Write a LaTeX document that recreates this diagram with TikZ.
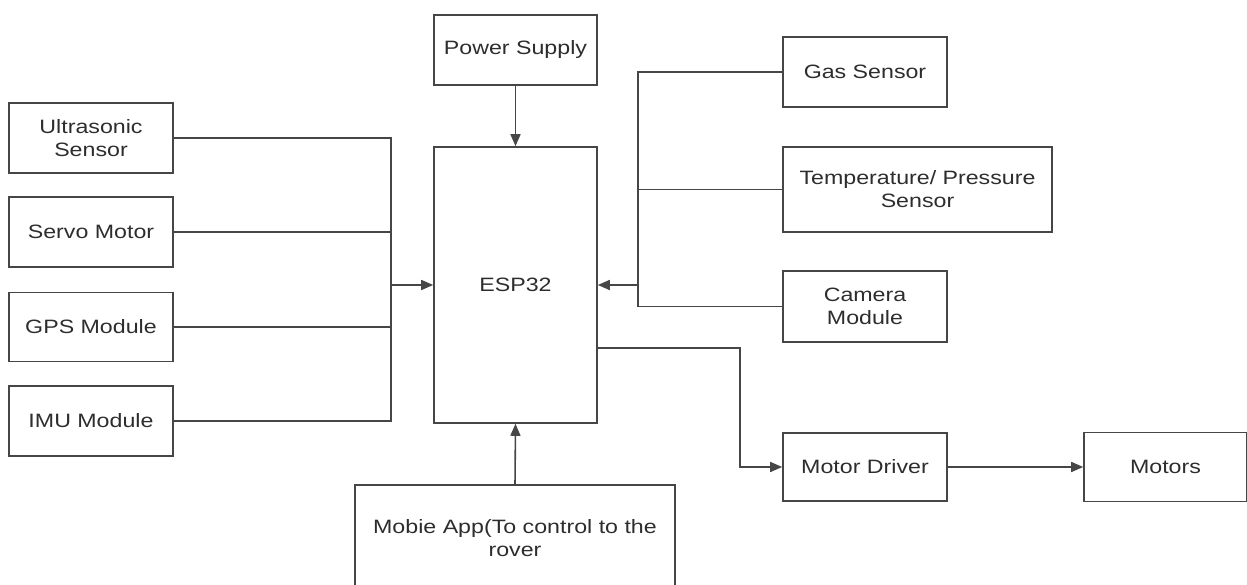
\documentclass[tikz,border=0pt]{standalone}
\usepackage{fontspec}
\setmainfont{Liberation Sans}[FakeStretch=1.2]
\usetikzlibrary{arrows.meta}
\definecolor{lineg}{RGB}{70,70,70}
\definecolor{textg}{RGB}{45,45,45}

\begin{document}
\begin{tikzpicture}[
  blk/.style={draw=lineg, line width=0.9pt, text=textg, align=center, inner sep=2pt, font=\fontsize{11}{13}\selectfont},
  wire/.style={draw=lineg, line width=0.9pt},
  feed/.style={wire, -{Triangle[length=2.4mm, width=2mm]}}
]
\useasboundingbox (0,0) rectangle (24.94,11.7);

% Controller and supply
\node[blk, minimum width=3.26cm, minimum height=5.52cm] (esp) at (10.31, 6.0) {ESP32};
\node[blk, minimum width=3.26cm, minimum height=1.4cm] (power) at (10.31, 10.7) {Power Supply};
\node[blk, minimum width=6.4cm, minimum height=2.14cm] (app) at (10.3, 0.93) {Mobie App(To control to the\\rover};

% Left inputs
\node[blk, minimum width=3.28cm, minimum height=1.4cm] (ultra) at (1.82, 8.94) {Ultrasonic\\Sensor};
\node[blk, minimum width=3.28cm, minimum height=1.4cm] (servo) at (1.82, 7.06) {Servo Motor};
\node[blk, minimum width=3.28cm, minimum height=1.38cm] (gps) at (1.82, 5.16) {GPS Module};
\node[blk, minimum width=3.28cm, minimum height=1.4cm] (imu) at (1.82, 3.28) {IMU Module};

% Right inputs
\node[blk, minimum width=3.28cm, minimum height=1.4cm] (gas) at (17.3, 10.26) {Gas Sensor};
\node[blk, minimum width=5.38cm, minimum height=1.7cm] (temp) at (18.35, 7.91) {Temperature/ Pressure\\Sensor};
\node[blk, minimum width=3.28cm, minimum height=1.42cm] (cam) at (17.3, 5.57) {Camera\\Module};

% Outputs
\node[blk, minimum width=3.28cm, minimum height=1.36cm] (driver) at (17.3, 2.36) {Motor Driver};
\node[blk, minimum width=3.26cm, minimum height=1.38cm] (motors) at (23.31, 2.36) {Motors};

% Buses
\coordinate (lbus) at (7.82, 6.0);
\coordinate (rbus) at (12.76, 6.0);
\coordinate (turn) at (14.8, 4.74);

\draw[wire] (ultra.east) -| (lbus);
\draw[wire] (servo.east) -| (lbus);
\draw[wire] (gps.east) -| (lbus);
\draw[wire] (imu.east) -| (lbus);
\draw[feed] (lbus) -- (esp.west);

\draw[wire] (gas.west) -| (rbus);
\draw[wire] (temp.west) -| (rbus);
\draw[wire] (cam.west) -| (rbus);
\draw[feed] (rbus) -- (esp.east);

\draw[feed] (power.south) -- (esp.north);
\draw[feed] (app.north) -- (esp.south);
\draw[feed] (esp.east |- turn) -- (turn) |- (driver.west);
\draw[feed] (driver.east) -- (motors.west);
\end{tikzpicture}
\end{document}
